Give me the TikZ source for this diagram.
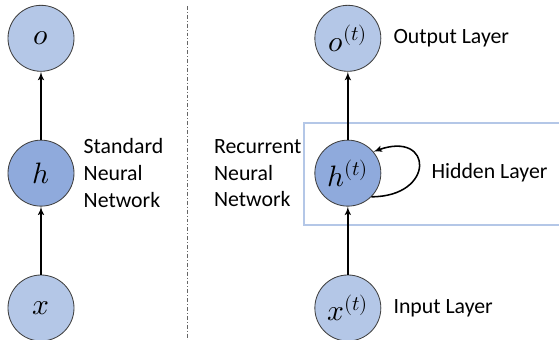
\documentclass[tikz,border=0pt]{standalone}
\usepackage{fontspec}
\usepackage{unicode-math}
\setmainfont{Carlito}
\setmathfont{Latin Modern Math}
\usepackage{tikz}
\usetikzlibrary{calc}
\usetikzlibrary{arrows,positioning}

\definecolor{nodelight}{HTML}{B4C7E7}
\definecolor{nodedark}{HTML}{8FAADC}
\definecolor{nodeline}{HTML}{404040}
\definecolor{boxline}{HTML}{B4C7E7}

\begin{document}
\begin{tikzpicture}[>=latex']
        \tikzset{lnode/.style= {draw=nodeline, circle, fill=nodelight, line width=0.6pt, minimum size=1.65cm, inner sep=0pt, font=\fontsize{21}{24}\selectfont},
        hnode/.style= {lnode, fill=nodedark},
        lbl/.style={inner sep=0pt, align=left, font=\fontsize{15.5}{19}\selectfont},
        conn/.style={->, line width=1.1pt},
        }
        \useasboundingbox (0,0) rectangle (13.975,8.5);
        % standard network
        \node [lnode]  (x) at (1.025,0.8) {$x$};
        \node [hnode, above =1.7cm of x] (h) {$h$};
        \node [lnode, above =1.7cm of h] (o) {$o$};
        \node [lbl, right =0.225cm of h, anchor=west] (std) {Standard\\Neural\\Network};

        % recurrent network
        \node [lnode, right =6cm of x] (xt) {$x^{(t)}$};
        \node [hnode, above =1.7cm of xt] (ht) {$h^{(t)}$};
        \node [lnode, above =1.7cm of ht] (ot) {$o^{(t)}$};
        \node [lbl, left =0.32cm of ht] (rnn) {Recurrent\\Neural\\Network};
        \node [lbl, right =0.3cm of ot] (out_lbl) {Output Layer};
        \node [lbl, right =1.25cm of ht] (hid_lbl) {Hidden Layer};
        \node [lbl, right =0.3cm of xt] (in_lbl) {Input Layer};

        % hidden layer box, open to the right
        \coordinate (box_tl) at ($(ht)+(-1.1,1.25)$);
        \coordinate (box_bl) at ($(ht)+(-1.1,-1.29)$);
        \draw[boxline, line width=1.4pt] (box_tl -| 13.975,0) -- (box_tl) -- (box_bl) -- (box_bl -| 13.975,0);

        % divider
        \draw[nodeline!80, line width=0.7pt, dash pattern=on 2.8pt off 1.4pt on 0.7pt off 1.4pt] (4.69,8.35) -- (4.69,0);

%% paths
        \path[draw,conn] (x) edge (h)
                    (h) edge (o)
                    (xt) edge (ht)
                    (ht) edge (ot);
        \draw[conn] (ht.-45) .. controls +(0:1.6) and +(20:1.6) .. (ht.40);
    \end{tikzpicture}
\end{document}
